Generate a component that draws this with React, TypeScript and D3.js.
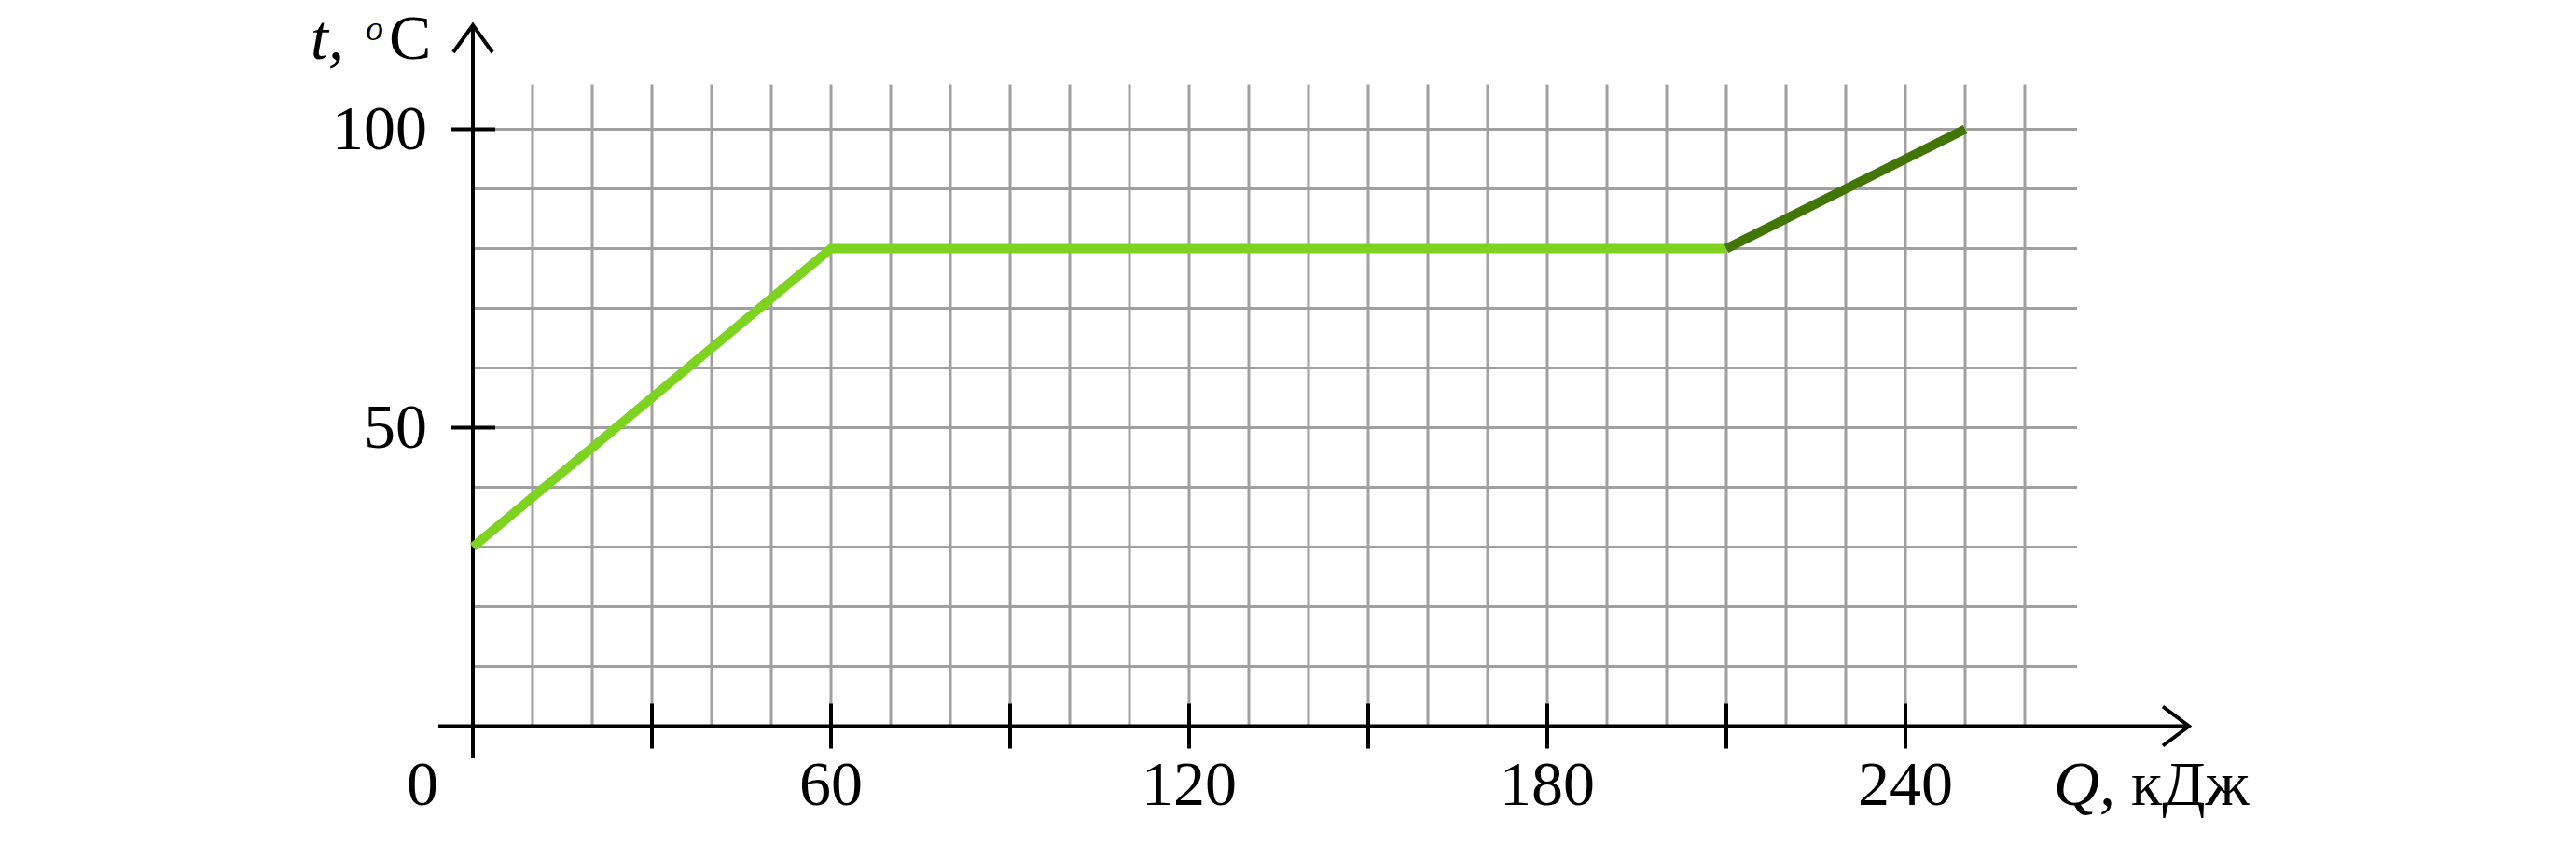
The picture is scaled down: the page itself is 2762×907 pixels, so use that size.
import React from "react";
import * as d3 from "d3";

const W = 2762;
const H = 907;

// Data
const warmQ = [0, 60, 210];
const warmT = [30, 80, 80];
const boilQ = [210, 250];
const boilT = [80, 100];
const xTickValues = [30, 60, 90, 120, 150, 180, 210, 240];
const xLabelValues = [0, 60, 120, 180, 240];
const yTickValues = [50, 100];
const gridQ = [10, 20, 30, 40, 50, 60, 70, 80, 90, 100, 110, 120, 130, 140, 150, 160, 170, 180, 190, 200, 210, 220, 230, 240, 250, 260];
const gridT = [10, 20, 30, 40, 50, 60, 70, 80, 90, 100];

const FONT = "'Liberation Serif', 'DejaVu Serif', serif";

export default function App() {
  const x = d3.scaleLinear().domain([0, 270]).range([507, 507 + 27 * 64]);
  const y = d3.scaleLinear().domain([0, 100]).range([778.5, 138.5]);

  const line = d3
    .line<[number, number]>()
    .x((d) => x(d[0]))
    .y((d) => y(d[1]));

  const warmPts = warmQ.map((q, i) => [q, warmT[i]] as [number, number]);
  const boilPts = boilQ.map((q, i) => [q, boilT[i]] as [number, number]);

  const x0 = x(0);
  const y0 = y(0);
  const gridTop = y(107.5);
  const gridRight = x(268.75);
  const xAxisEnd = 2347;
  const yAxisTop = 27;

  return (
    <svg
      width={W}
      height={H}
      style={{ position: "absolute", left: 0, top: 0, display: "block", background: "#fff" }}
    >
      <rect x={0} y={0} width={W} height={H} fill="#fff" />
      {/* grid */}
      <g stroke="#a0a0a0" strokeWidth={3}>
        {gridQ.map((q) => (
          <line key={"gx" + q} x1={x(q)} x2={x(q)} y1={gridTop} y2={y0} />
        ))}
        {gridT.map((t) => (
          <line key={"gy" + t} x1={x0} x2={gridRight} y1={y(t)} y2={y(t)} />
        ))}
      </g>
      {/* axes */}
      <g stroke="#000" strokeWidth={4} fill="none">
        <line x1={470} x2={xAxisEnd} y1={y0} y2={y0} />
        <line x1={x0} x2={x0} y1={813} y2={yAxisTop} />
        <path d={`M${xAxisEnd - 28},${y0 - 21} L${xAxisEnd},${y0} L${xAxisEnd - 28},${y0 + 21}`} />
        <path d={`M${x0 - 21},${yAxisTop + 29} L${x0},${yAxisTop} L${x0 + 21},${yAxisTop + 29}`} />
        {xTickValues.map((q) => (
          <line key={"xt" + q} x1={x(q)} x2={x(q)} y1={y0 - 24} y2={y0 + 24} />
        ))}
        {yTickValues.map((t) => (
          <line key={"yt" + t} x1={x0 - 23} x2={x0 + 24} y1={y(t)} y2={y(t)} />
        ))}
      </g>
      {/* data lines */}
      <path d={line(warmPts) || ""} fill="none" stroke="#7ed321" strokeWidth={10} strokeLinejoin="miter" />
      <path d={line(boilPts) || ""} fill="none" stroke="#417505" strokeWidth={10} />
      {/* labels */}
      <g fontFamily={FONT} fontSize={68} fill="#000">
        {yTickValues.map((t) => (
          <text key={"yl" + t} x={458} y={y(t) + 21} textAnchor="end">
            {t}
          </text>
        ))}
        {xLabelValues.map((q) => (
          <text key={"xl" + q} x={q === 0 ? 453 : x(q)} y={863} textAnchor="middle">
            {q}
          </text>
        ))}
        <text x={333} y={63} fontStyle="italic">t,</text>
        <text x={392} y={43} fontSize={38} fontStyle="italic">o</text>
        <text x={417} y={63}>C</text>
        <text x={2202} y={863}>
          <tspan fontStyle="italic">Q,</tspan>
          <tspan> кДж</tspan>
        </text>
      </g>
    </svg>
  );
}
